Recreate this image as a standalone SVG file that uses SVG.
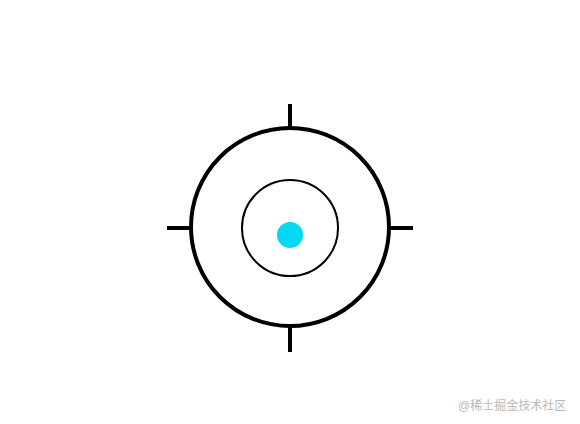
<svg xmlns="http://www.w3.org/2000/svg" width="580" height="424" viewBox="0 0 580 424">
<style>
.ring{fill:none;stroke:#000}
.tick{stroke:#000;stroke-width:4}
.wm{font-family:"Liberation Sans","Noto Sans CJK SC",sans-serif;font-size:12px;fill:#b8b8b8}
</style>
<rect width="580" height="424" fill="#fff"/>
<g id="outer-ring"><circle class="ring" cx="290" cy="227" r="99" stroke-width="4"/></g>
<g id="inner-ring"><circle class="ring" cx="290" cy="228" r="48" stroke-width="2"/></g>
<g id="dot"><circle cx="290" cy="235" r="13" fill="#05d9f2"/></g>
<g id="ticks">
<line class="tick" x1="290" y1="104" x2="290" y2="128"/>
<line class="tick" x1="290" y1="327" x2="290" y2="352"/>
<line class="tick" x1="167" y1="228" x2="191" y2="228"/>
<line class="tick" x1="389" y1="228" x2="413" y2="228"/>
</g>
<text class="wm" x="458" y="410">@稀土掘金技术社区</text>
</svg>
